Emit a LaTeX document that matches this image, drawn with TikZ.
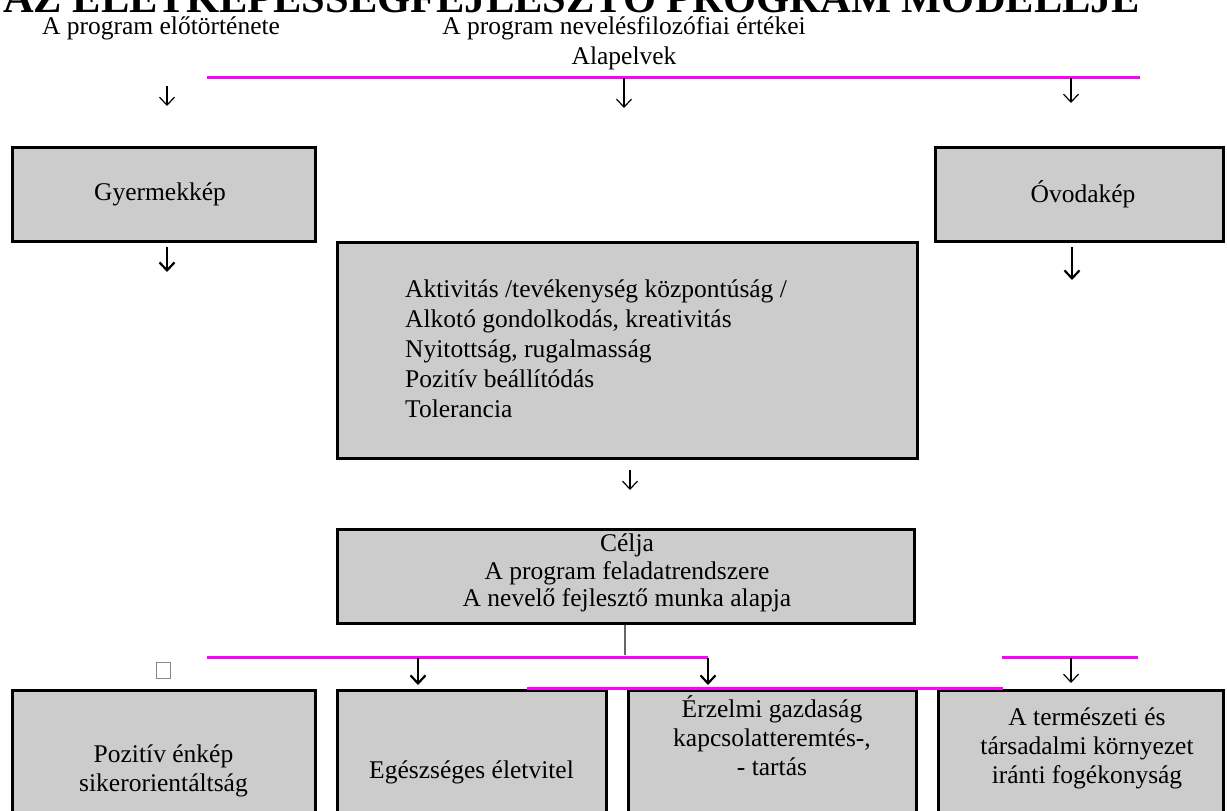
\documentclass[tikz,border=0pt]{standalone}
\usepackage{fontspec}
\setmainfont{Liberation Serif}
\usetikzlibrary{arrows.meta}
\definecolor{boxgray}{HTML}{CCCCCC}
\definecolor{mag}{HTML}{FF00FF}
\definecolor{tofugray}{HTML}{888888}
\begin{document}
\begin{tikzpicture}[x=1pt,y=-1pt,
  box/.style={draw=black, line width=3pt, fill=boxgray, inner sep=0pt},
  lbl/.style={font=\fontsize{25.5}{30}\selectfont, inner sep=0pt, align=center},
  bl/.style={font=\fontsize{25.5}{29}\selectfont, inner sep=0pt, align=center},
  tarrow/.style={line width=1.2pt, -{Straight Barb[length=8pt,width=15pt,line width=1.2pt]}},
  karrow/.style={line width=2.2pt, -{Straight Barb[length=8pt,width=15pt,line width=2.2pt]}},
  magline/.style={draw=mag, line width=3pt},
]
\useasboundingbox (0,0) rectangle (1227,811);

% title (clipped at top)
\node[font=\bfseries\fontsize{42.5}{42.5}\selectfont, anchor=base west, inner sep=0pt] (title) at (3,12.5) {AZ ÉLETKÉPESSÉGFEJLESZTŐ PROGRAM MODELLJE};

% top texts
\node[lbl] (elo) at (161,28) {A program előtörténete};
\node[lbl] (ertek) at (624,43) {A program nevelésfilozófiai értékei\\Alapelvek};

% magenta top line
\coordinate (m1a) at (207,77);
\coordinate (m1b) at (1140,77);
\draw[magline] (m1a) -- (m1b);

% top arrows
\coordinate (a1s) at (167,86);  \coordinate (a1e) at (167,106);
\coordinate (a2s) at (624,78);  \coordinate (a2e) at (624,108);
\coordinate (a3s) at (1071,78); \coordinate (a3e) at (1071,103);
\draw[tarrow] (a1s) -- (a1e);
\draw[tarrow] (a2s) -- (a2e);
\draw[tarrow] (a3s) -- (a3e);

% Gyermekkép / Óvodakép
\node[box, minimum width=303pt, minimum height=94pt] (gy) at (163.5,194) {};
\node[lbl] (gyt) at (160,194) {Gyermekkép};
\node[box, minimum width=288pt, minimum height=94pt] (ov) at (1079,194) {};
\node[lbl] (ovt) at (1083,194) {Óvodakép};

\coordinate (gya) at (167,247); \coordinate (gyb) at (167,272);
\coordinate (ova) at (1072,247); \coordinate (ovb) at (1072,280);
\draw[karrow] (gya) -- (gyb);
\draw[karrow] (ova) -- (ovb);

% middle box
\node[box, minimum width=580pt, minimum height=216pt] (mid) at (627,350) {};
\node[lbl, align=left, anchor=west] (midtext) at (405,349) {Aktivitás /tevékenység központúság /\\Alkotó gondolkodás, kreativitás\\Nyitottság, rugalmasság\\Pozitív beállítódás\\Tolerancia};

\coordinate (mda) at (630,470); \coordinate (mdb) at (630,490);
\draw[tarrow] (mda) -- (mdb);

% Célja box
\node[box, minimum width=577pt, minimum height=94pt] (cel) at (625.5,576) {};
\node[font=\fontsize{25.5}{27.5}\selectfont, inner sep=0pt, align=center] (celtext) at (627,573) {Célja\\A program feladatrendszere\\A nevelő fejlesztő munka alapja};

% gray connector
\coordinate (gl) at (625,655);
\draw[draw=black!60, line width=1.5pt] (cel.south -| gl) -- (gl);

% bottom magenta lines
\coordinate (m2a) at (207,657); \coordinate (m2b) at (708,657);
\coordinate (m3a) at (527,688); \coordinate (m3b) at (1003,688);
\coordinate (m4a) at (1002,657); \coordinate (m4b) at (1138,657);
\draw[magline] (m2a) -- (m2b);
\draw[magline] (m4a) -- (m4b);

% missing glyph box
\node[draw=tofugray, line width=0.8pt, minimum width=14pt, minimum height=16pt, inner sep=0pt] (tofu) at (163,670) {};

% bottom arrows
\coordinate (b1s) at (418,658); \coordinate (b1e) at (418,685);
\coordinate (b2s) at (708,658); \coordinate (b2e) at (708,685);
\coordinate (b3s) at (1071,658); \coordinate (b3e) at (1071,683);
\draw[karrow] (b1s) -- (b1e);
\draw[karrow] (b2s) -- (b2e);
\draw[tarrow] (b3s) -- (b3e);

% bottom boxes (cut at bottom)
\node[box, minimum width=303pt, minimum height=150pt] (p1) at (163.5,765) {};
\node[box, minimum width=269pt, minimum height=150pt] (p2) at (471.5,765) {};
\node[box, minimum width=288pt, minimum height=150pt] (p3) at (772,765) {};
\node[box, minimum width=285pt, minimum height=150pt] (p4) at (1080.5,765) {};

\draw[magline] (m3a) -- (m3b);

\node[bl] (t1) at (163.5,771) {Pozitív énkép\\sikerorientáltság};
\node[bl] (t2) at (471.5,772) {Egészséges életvitel};
\node[bl] (t3) at (772,735.5) {Érzelmi gazdaság\\kapcsolatteremtés-,\\- tartás};
\node[bl] (t4) at (1087,748) {A természeti és\\társadalmi környezet\\iránti fogékonyság};
\end{tikzpicture}
\end{document}
